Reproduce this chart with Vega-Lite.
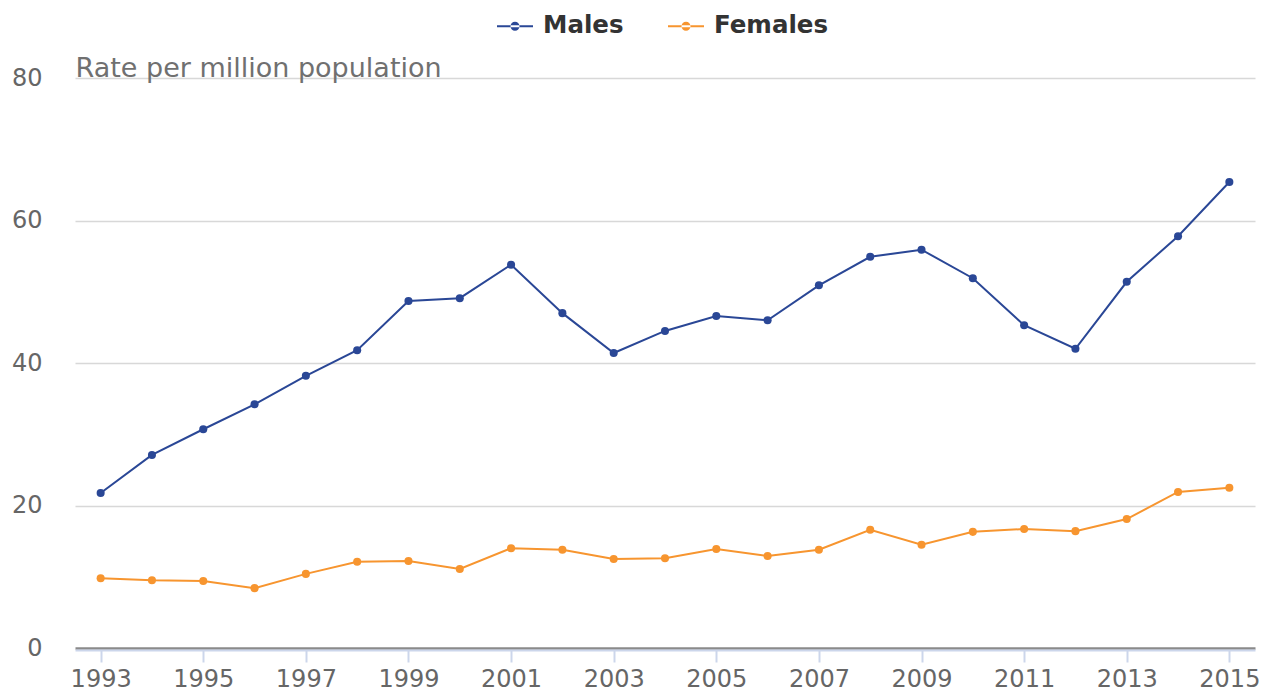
{
  "$schema": "https://vega.github.io/schema/vega-lite/v6.json",
  "width": 1180,
  "height": 570,
  "autosize": {"type": "none"},
  "padding": {"left": 75, "top": 78, "right": 10, "bottom": 43},
  "background": "white",
  "config": {
    "font": "DejaVu Sans",
    "view": {"stroke": null}
  },
  "data": {
    "values": [
      {"year": 1993, "sex": "Males", "rate": 21.75},
      {"year": 1994, "sex": "Males", "rate": 27.1},
      {"year": 1995, "sex": "Males", "rate": 30.7},
      {"year": 1996, "sex": "Males", "rate": 34.2},
      {"year": 1997, "sex": "Males", "rate": 38.2},
      {"year": 1998, "sex": "Males", "rate": 41.8},
      {"year": 1999, "sex": "Males", "rate": 48.7},
      {"year": 2000, "sex": "Males", "rate": 49.1},
      {"year": 2001, "sex": "Males", "rate": 53.8},
      {"year": 2002, "sex": "Males", "rate": 47.0},
      {"year": 2003, "sex": "Males", "rate": 41.4},
      {"year": 2004, "sex": "Males", "rate": 44.5},
      {"year": 2005, "sex": "Males", "rate": 46.6},
      {"year": 2006, "sex": "Males", "rate": 46.0},
      {"year": 2007, "sex": "Males", "rate": 50.9},
      {"year": 2008, "sex": "Males", "rate": 54.9},
      {"year": 2009, "sex": "Males", "rate": 55.9},
      {"year": 2010, "sex": "Males", "rate": 51.9},
      {"year": 2011, "sex": "Males", "rate": 45.3},
      {"year": 2012, "sex": "Males", "rate": 42.0},
      {"year": 2013, "sex": "Males", "rate": 51.4},
      {"year": 2014, "sex": "Males", "rate": 57.8},
      {"year": 2015, "sex": "Males", "rate": 65.4},
      {"year": 1993, "sex": "Females", "rate": 9.8},
      {"year": 1994, "sex": "Females", "rate": 9.5},
      {"year": 1995, "sex": "Females", "rate": 9.4},
      {"year": 1996, "sex": "Females", "rate": 8.4},
      {"year": 1997, "sex": "Females", "rate": 10.4},
      {"year": 1998, "sex": "Females", "rate": 12.1},
      {"year": 1999, "sex": "Females", "rate": 12.2},
      {"year": 2000, "sex": "Females", "rate": 11.1},
      {"year": 2001, "sex": "Females", "rate": 14.0},
      {"year": 2002, "sex": "Females", "rate": 13.8},
      {"year": 2003, "sex": "Females", "rate": 12.5},
      {"year": 2004, "sex": "Females", "rate": 12.6},
      {"year": 2005, "sex": "Females", "rate": 13.9},
      {"year": 2006, "sex": "Females", "rate": 12.9},
      {"year": 2007, "sex": "Females", "rate": 13.8},
      {"year": 2008, "sex": "Females", "rate": 16.6},
      {"year": 2009, "sex": "Females", "rate": 14.5},
      {"year": 2010, "sex": "Females", "rate": 16.3},
      {"year": 2011, "sex": "Females", "rate": 16.7},
      {"year": 2012, "sex": "Females", "rate": 16.4},
      {"year": 2013, "sex": "Females", "rate": 18.1},
      {"year": 2014, "sex": "Females", "rate": 21.9},
      {"year": 2015, "sex": "Females", "rate": 22.5}
    ]
  },
  "mark": {"type": "line", "strokeWidth": 2, "point": {"size": 65, "filled": true, "opacity": 1}},
  "encoding": {
    "x": {
      "field": "year",
      "type": "ordinal",
      "scale": {"type": "point", "padding": 0.5},
      "axis": {
        "title": null,
        "labelAngle": 0,
        "values": [1993, 1995, 1997, 1999, 2001, 2003, 2005, 2007, 2009, 2011, 2013, 2015],
        "labelFontSize": 24,
        "labelColor": "#666666",
        "labelPadding": 5,
        "tickColor": "#ccd6eb",
        "tickWidth": 2,
        "tickSize": 12,
        "domainColor": "#ccd6eb",
        "domainWidth": 2,
        "offset": 2,
        "grid": false
      }
    },
    "y": {
      "field": "rate",
      "type": "quantitative",
      "scale": {"domain": [0, 80]},
      "axis": {
        "title": "Rate per million population",
        "titleAngle": 0,
        "titleAlign": "left",
        "titleBaseline": "alphabetic",
        "titleX": 0,
        "titleY": -2,
        "titleFontSize": 27,
        "titleFontWeight": "normal",
        "titleColor": "#707070",
        "values": [0, 20, 40, 60, 80],
        "labelFontSize": 24,
        "labelColor": "#666666",
        "labelPadding": 33,
        "domain": false,
        "ticks": false,
        "grid": true,
        "gridColor": {"condition": {"test": "datum.value === 0", "value": "#8a8a8a"}, "value": "#d8d8d8"},
        "gridWidth": {"condition": {"test": "datum.value === 0", "value": 2.5}, "value": 1.5}
      }
    },
    "color": {
      "field": "sex",
      "type": "nominal",
      "scale": {"domain": ["Males", "Females"], "range": ["#2a4796", "#f7952f"]},
      "legend": {
        "title": null,
        "orient": "none",
        "legendX": 422,
        "legendY": -70,
        "direction": "horizontal",
        "labelFontSize": 24.5,
        "labelFontWeight": "bold",
        "labelColor": "#333333",
        "symbolType": "M-1,-0.06H1V0.06H-1Z M-0.25,0A0.25,0.25 0 1,0 0.25,0A0.25,0.25 0 1,0 -0.25,0Z",
        "symbolSize": 1296,
        "symbolStrokeWidth": 0,
        "symbolOpacity": 1,
        "columnPadding": 44,
        "labelOffset": 10
      }
    }
  }
}
